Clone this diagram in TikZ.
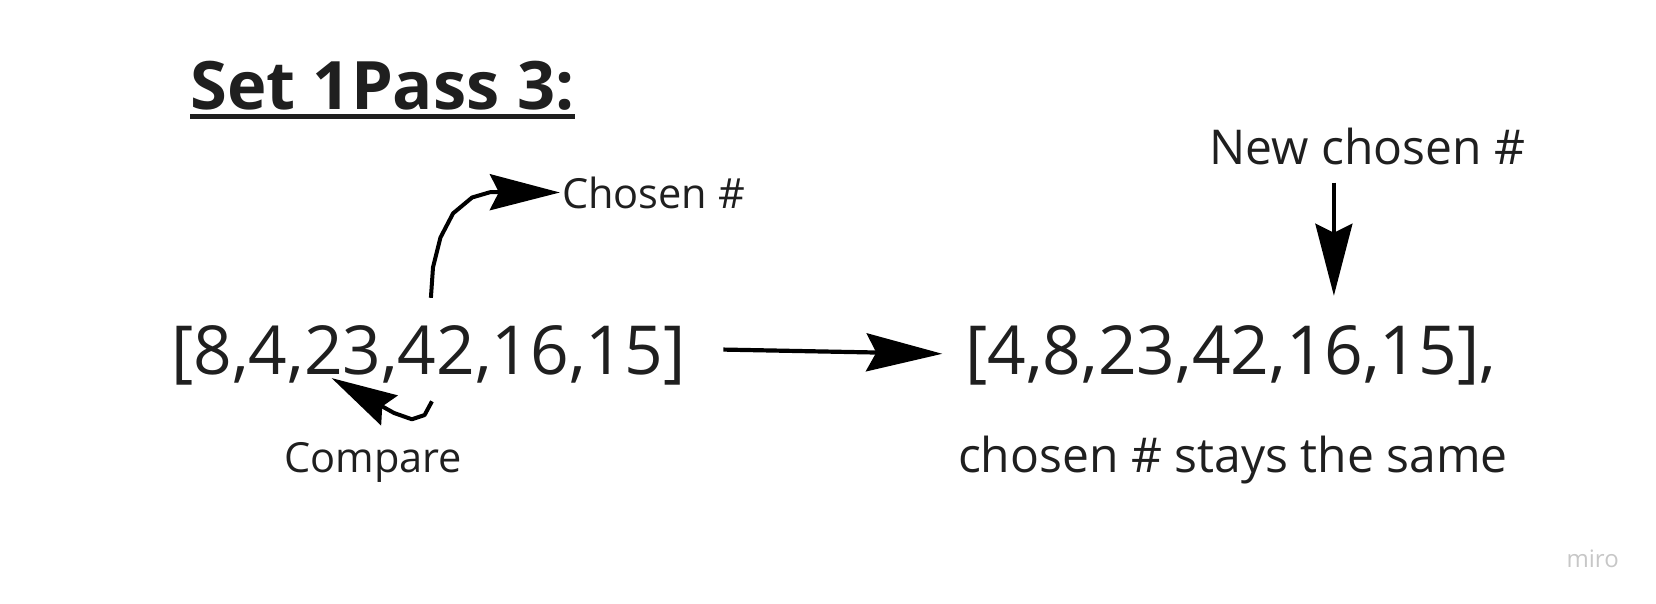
\documentclass[tikz,border=0pt]{standalone}
\usepackage{fontspec}
\setmainfont{Open Sans}
\usetikzlibrary{arrows.meta,positioning}

\begin{document}
\begin{tikzpicture}[x=1.056pt,y=-1.056pt,
	lbl/.style={inner sep=0pt,anchor=base west,text=black!88},
	arr/.style={line width=4pt,line join=round,-{Stealth[length=70pt,width=36pt,inset=9pt]}}]
\useasboundingbox (0,0) rectangle (1568,571);

% title
\node[lbl,font={\fontsize{66.8}{72}\selectfont\bfseries}] (title) at (180,104) {Set 1Pass 3:};
\draw[line width=5pt,black!88] ([yshift=-7pt]title.base west) -- ([yshift=-7pt]title.base east);

% lists
\node[lbl,font={\fontsize{67.6}{72}\selectfont}] (old) at (162,355) {[8,4,23,42,16,15]};
\node[lbl,font={\fontsize{67.6}{72}\selectfont}] (new) at (914,355) {[4,8,23,42,16,15],};

% labels
\node[lbl,font={\fontsize{41.5}{46}\selectfont}] (chosen) at (532,197) {Chosen \#};
\node[lbl,font={\fontsize{41.5}{46}\selectfont}] (compare) at (269,447) {Compare};
\node[lbl,font={\fontsize{48}{54}\selectfont}] (same) at (907,447) {chosen \# stays the same};
\node[lbl,font={\fontsize{48}{54}\selectfont}] (newchosen) at (1145,156) {New chosen \#};
\node[inner sep=0pt,text=black!22,font={\fontsize{24}{28}\selectfont}] (miro) at (1508,529) {miro};

% connectors
\coordinate (up) at (408,282);
\coordinate (down) at (409,380);
\coordinate (cmp) at (314,358);
\coordinate (go) at (685,331);
\coordinate (top) at (1263,173);
\coordinate (hit) at (1263,280);
\draw[arr] (up) -- (410,253) -- (417,225) -- (429,202) -- (447,187) -- (464,182) -- ([xshift=-2pt]chosen.west);
\draw[arr,-{Stealth[length=66pt,width=34pt,inset=8pt]}] (down) -- (402,393) -- (390,397) -- (373,391) -- (cmp);
\draw[arr,line width=4.2pt,-{Stealth[length=76pt,width=38pt,inset=10pt]}] (go) -- ([xshift=-23pt,yshift=2pt]new.west);
\draw[arr,line width=3.5pt,-{Stealth[length=72pt,width=37pt,inset=9pt]}] (top) -- (hit);

\end{tikzpicture}
\end{document}
